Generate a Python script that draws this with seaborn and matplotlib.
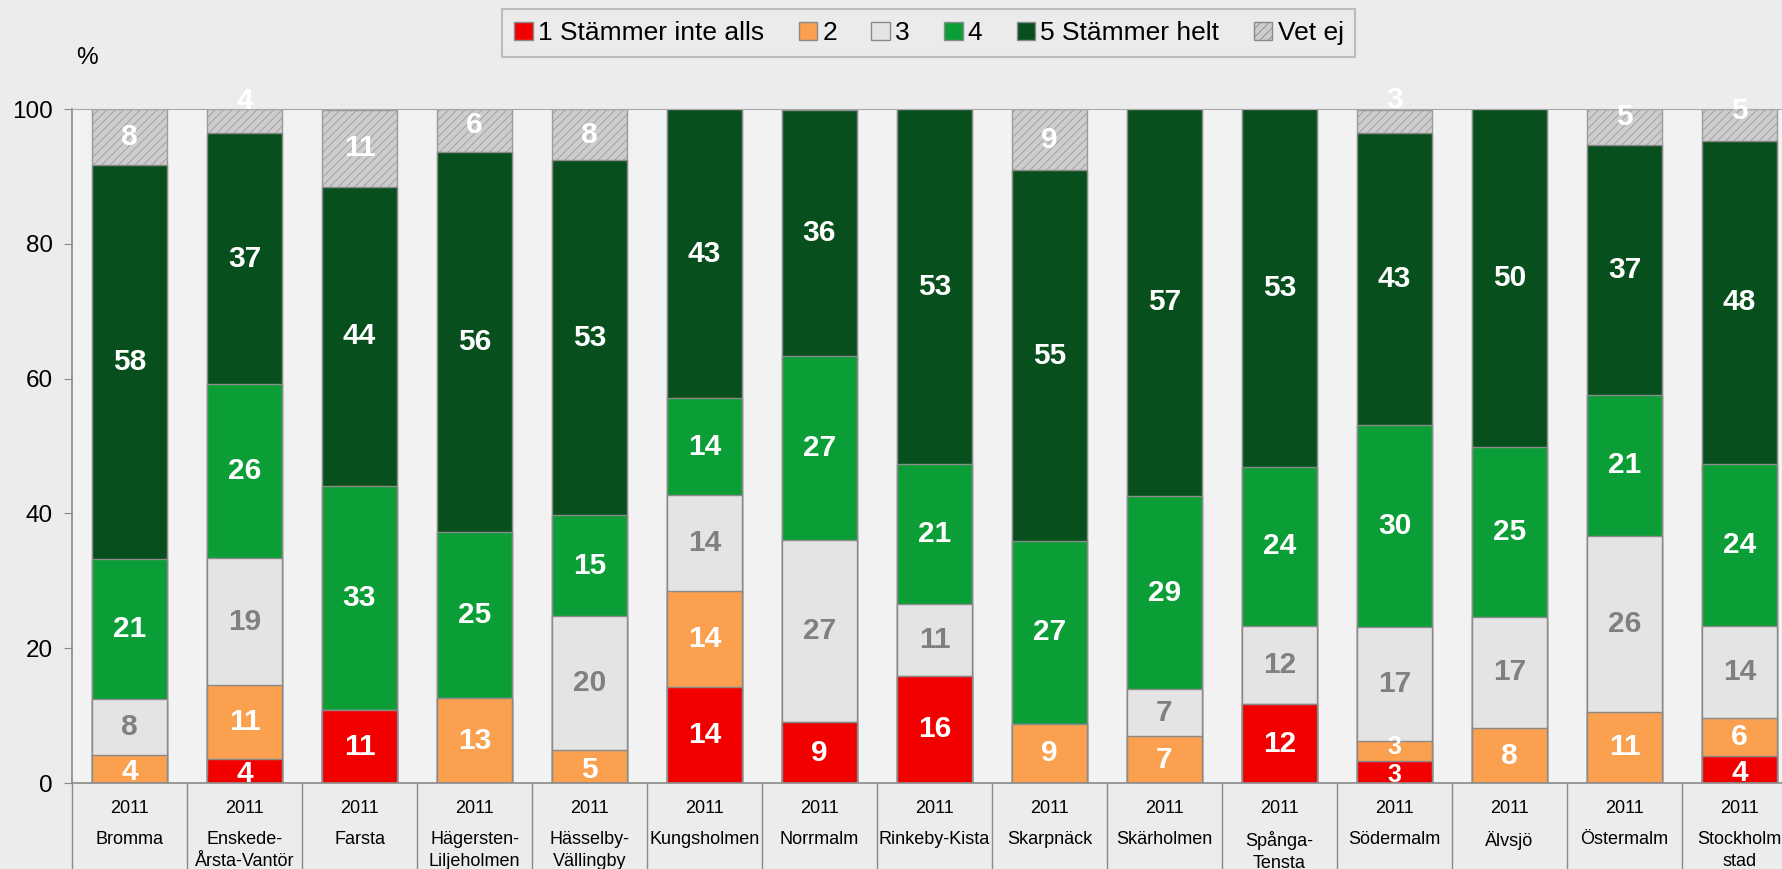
import numpy as np
import pandas as pd
import matplotlib
matplotlib.use("Agg")
import matplotlib.pyplot as plt
import matplotlib.transforms as mtransforms
from matplotlib.patches import Patch
import seaborn as sns

# Data (percent per answer, bottom to top)
districts = ["Bromma", "Enskede-\nÅrsta-Vantör", "Farsta", "Hägersten-\nLiljeholmen",
             "Hässelby-\nVällingby", "Kungsholmen", "Norrmalm", "Rinkeby-Kista",
             "Skarpnäck", "Skärholmen", "Spånga-\nTensta", "Södermalm", "Älvsjö",
             "Östermalm", "Stockholm\nstad"]
years = ["2011"] * 15
series_names = ["1 Stämmer inte alls", "2", "3", "4", "5 Stämmer helt", "Vet ej"]

s1 = [0, 3.6, 10.8, 0, 0, 14.2, 9.0, 15.9, 0, 0, 11.7, 3.3, 0, 0, 4.0]
s2 = [4.2, 10.9, 0, 12.6, 4.9, 14.3, 0, 0, 8.8, 6.9, 0, 3.0, 8.1, 10.6, 5.6]
s3 = [8.2, 18.9, 0, 0, 19.9, 14.2, 27.1, 10.6, 0, 7.0, 11.6, 16.8, 16.6, 26.1, 13.7]
s4 = [20.9, 25.8, 33.3, 24.6, 14.9, 14.4, 27.3, 20.8, 27.1, 28.7, 23.6, 30.0, 25.1, 20.9, 24.0]
s5 = [58.4, 37.2, 44.4, 56.4, 52.7, 42.9, 36.4, 52.7, 55.0, 57.4, 53.1, 43.4, 50.2, 37.0, 48.0]
s6 = [8.3, 3.6, 11.4, 6.4, 7.6, 0, 0, 0, 9.1, 0, 0, 3.4, 0, 5.4, 4.7]

colors = ["#f20000", "#fba04e", "#e4e4e4", "#0c9e36", "#07501d", "#cdcdcd"]
text_colors = ["white", "white", "#808080", "white", "white", "white"]

layers = [s1, s2, s3, s4, s5, s6]
df = pd.DataFrame({"district": districts})
cum = np.zeros(len(districts))
for name, vals in zip(series_names, layers):
    cum = cum + np.array(vals)
    df[name] = cum

plt.rcParams["font.family"] = ["Liberation Sans", "DejaVu Sans"]
plt.rcParams["hatch.linewidth"] = 0.6

fig = plt.figure(figsize=(17.83, 8.69), dpi=100, facecolor="#ececec")
ax = fig.add_axes([72 / 1783, 86 / 869, 1725 / 1783, 674 / 869])
ax.set_facecolor("#f2f2f2")

# stacked bars: draw cumulative totals from the top layer down
for k in range(len(series_names) - 1, -1, -1):
    sns.barplot(data=df, x="district", y=series_names[k], color=colors[k],
                width=0.65, errorbar=None, ax=ax, saturation=1,
                edgecolor="#9a9a9a" if k == 5 else "#8a8a8a", linewidth=1.0,
                hatch="////" if k == 5 else None)

# segment labels (small edge labels drift outwards, like in the original)
bottom = np.zeros(len(districts))
prev = np.full(len(districts), 100.0)
for k, vals in enumerate(layers):
    vals = np.array(vals)
    for i, v in enumerate(vals):
        if v > 0:
            y = bottom[i] + v / 2
            size = 21.5
            if k == 5 and v < 7.5:
                y += (7.5 - v) * 0.75
            elif bottom[i] == 0 and v < 5:
                y -= 0.5
            elif v < 3.5 and prev[i] < 3.5:
                y += 0.6
            if v < 3.5 and k < 5:
                size = 18
            ax.text(i, y, f"{v:.0f}", ha="center", va="center",
                    color=text_colors[k], fontsize=size, fontweight="bold")
    prev = np.where(vals > 0, vals, prev)
    bottom = bottom + vals

ax.set_xlim(-0.5, len(districts) - 0.5)
ax.set_ylim(0, 100)
ax.set_yticks([0, 20, 40, 60, 80, 100])
ax.tick_params(axis="y", labelsize=17.5, length=6, color="#8a8a8a", pad=8)
ax.set_xlabel("")
ax.set_ylabel("")

ax.set_xticks(range(len(districts)))
ax.set_xticklabels(years, fontsize=13)
ax.set_xticks(np.arange(-0.5, len(districts), 1), minor=True)
ax.tick_params(axis="x", which="major", length=0, pad=12)
ax.tick_params(axis="x", which="minor", length=65, color="#8a8a8a", width=1)

trans = mtransforms.blended_transform_factory(ax.transData, ax.transAxes)
for i, name in enumerate(districts):
    ax.text(i, -0.071, name, transform=trans, ha="center", va="top",
            fontsize=13, linespacing=1.4)

ax.spines["right"].set_visible(False)
ax.spines["top"].set_color("#a8a8a8")
for side in ["left", "bottom"]:
    ax.spines[side].set_color("#8a8a8a")
    ax.spines[side].set_linewidth(1.2)

fig.text(87 / 1783, 1 - 58 / 869, "%", fontsize=17.5, ha="center", va="center")

handles = [Patch(facecolor=c, edgecolor="#8a8a8a",
                 hatch="////" if n == "Vet ej" else None)
           for c, n in zip(colors, series_names)]
leg = fig.legend(handles, series_names, loc="center", bbox_to_anchor=(0.521, 0.962),
                 ncol=6, fontsize=19, frameon=True, fancybox=False,
                 handlelength=0.7, handleheight=0.7, handletextpad=0.2,
                 columnspacing=1.3, borderpad=0.45)
leg.get_frame().set_edgecolor("#b0b0b0")
leg.get_frame().set_facecolor("#ebebeb")
leg.get_frame().set_linewidth(1.5)

fig.savefig("out.png", dpi=100, facecolor=fig.get_facecolor())
